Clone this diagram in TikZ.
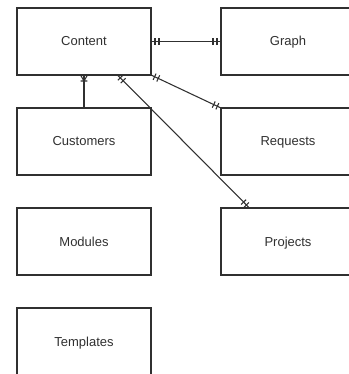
\documentclass[tikz,border=0pt]{standalone}
\usepackage{fontspec}
\setmainfont{Liberation Sans}
\usetikzlibrary{decorations.markings}

\definecolor{linegray}{RGB}{48,48,48}

\tikzset{
  entity/.style={draw=linegray, line width=0.8pt, minimum width=100.5pt, minimum height=50.25pt,
    inner sep=0pt, outer sep=0pt, text=linegray, text height=7.5pt, text depth=0.75pt,
    font=\fontsize{9.75}{12}\selectfont},
  relation/.style={draw=linegray, line width=0.8pt},
  % two bars at the start / end of a line (mandatory one)
  one start/.style={postaction={decorate, decoration={markings,
      mark=at position 0 with {\draw[linegray, line width=0.8pt] (3pt,-2.6pt) -- (3pt,2.6pt) (6pt,-2.6pt) -- (6pt,2.6pt);}}}},
  one end/.style={postaction={decorate, decoration={markings,
      mark=at position 1 with {\draw[linegray, line width=0.8pt] (-3pt,-2.6pt) -- (-3pt,2.6pt) (-6pt,-2.6pt) -- (-6pt,2.6pt);}}}},
  % crow's foot with a bar at the end of a line (one or many)
  many end/.style={postaction={decorate, decoration={markings,
      mark=at position 1 with {\draw[linegray, line width=0.8pt] (-4.5pt,0) -- (0,-2.6pt) (-4.5pt,0) -- (0,2.6pt) (-4.5pt,-2.6pt) -- (-4.5pt,2.6pt);}}}},
}

\begin{document}
\begin{tikzpicture}[x=0.75pt,y=0.75pt,yscale=-1,xscale=1]
\path[use as bounding box] (0,0) rectangle (349,374);

%Entities
\node[entity] (content) at (84,41.5) {Content};
\node[entity] (graph) at (288,41.5) {Graph};
\node[entity] (customers) at (84,141.5) {Customers};
\node[entity] (requests) at (288,141.5) {Requests};
\node[entity] (modules) at (84,241.5) {Modules};
\node[entity] (projects) at (288,241.5) {Projects};
\node[entity] (templates) at (84,341.5) {Templates};

%Relations
\draw[relation, one start, one end] (content.east) -- (graph.west);
\draw[relation, one start, one end] (content.south east) -- (requests.north west);
\draw[relation, one start, one end] (content.-45) -- (projects.139);
\draw[relation, many end] (customers.north) -- (content.south);

\end{tikzpicture}
\end{document}
